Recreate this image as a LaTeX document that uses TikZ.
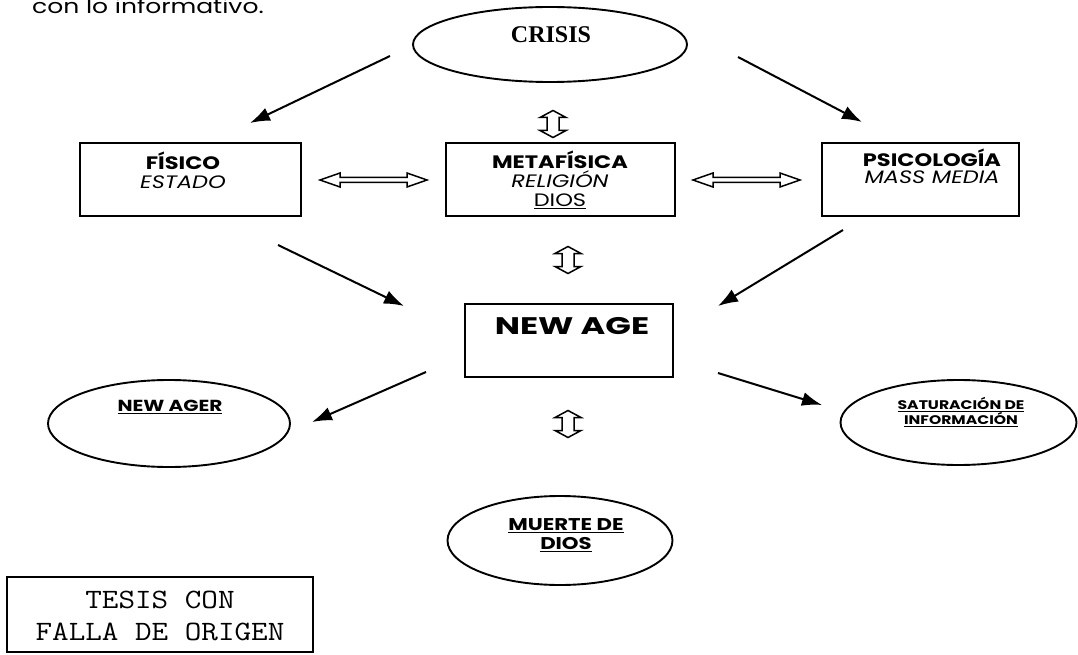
\documentclass[tikz,border=0pt]{standalone}
\usepackage{fontspec}
\usepackage{graphicx}
\setmainfont{Poppins}
\newfontfamily\crisisfont{Liberation Serif}
\newcommand\gx[1]{\scalebox{1.25}[1]{#1}}
\usetikzlibrary{shapes.geometric,arrows.meta,calc}
\begin{document}
\begin{tikzpicture}[x=1pt,y=-1pt,
  box/.style={draw,line width=1.5pt,inner sep=0pt},
  oval/.style={draw,ellipse,line width=1.9pt,inner sep=0pt},
  arr/.style={line width=2pt,-{Latex[length=20pt,width=14pt]}},
  hollow/.style={draw,line width=1.5pt,line join=miter},
  lbl/.style={inner sep=0pt,align=center,font=\fontsize{18}{19}\selectfont},
  ovtxt/.style={inner sep=0pt,align=center},
  stamptxt/.style={inner sep=0pt,align=center,font=\ttfamily\fontsize{28}{32}\selectfont},
  vdarrow/.pic={\draw[hollow] (0,-13.5) -- (13,-6.5) -- (6,-6.5) -- (6,6.5) -- (13,6.5) -- (0,13.5) -- (-13,6.5) -- (-6,6.5) -- (-6,-6.5) -- (-13,-6.5) -- cycle;},
  hdarrow/.pic={\draw[hollow] (-53.5,0) -- (-33.5,-7) -- (-33.5,-2.5) -- (33.5,-2.5) -- (33.5,-7) -- (53.5,0) -- (33.5,7) -- (33.5,2.5) -- (-33.5,2.5) -- (-33.5,7) -- cycle;}
]
\useasboundingbox (0,0) rectangle (1078,655);

% top text
\node[anchor=base west,inner sep=0pt,font=\fontsize{20}{22}\selectfont] (intro) at (32,14) {\gx{con lo informativo.}};

% CRISIS
\node[oval,minimum width=274pt,minimum height=75pt] (crisis) at (550,44.5) {};
\node[inner sep=0pt,font=\crisisfont\fontsize{24}{26}\selectfont\bfseries] (crisisT) at (551,35) {CRISIS};

% boxes
\node[box,minimum width=221pt,minimum height=73pt] (fisico) at (190.5,179.5) {};
\node[lbl] (fisicoT) at (183,170.5) {\gx{\textbf{FÍSICO}}\\\gx{\textit{ESTADO}}};

\node[box,minimum width=229pt,minimum height=73pt] (meta) at (560.5,179.5) {};
\node[lbl] (metaT) at (560,180) {\gx{\textbf{METAFÍSICA}}\\\gx{\textit{RELIGIÓN}}\\\gx{\underline{DIOS}}};

\node[box,minimum width=197pt,minimum height=73pt] (psico) at (920.5,179.5) {};
\node[lbl,font=\fontsize{18}{17}\selectfont] (psicoT) at (932,166) {\gx{\textbf{PSICOLOGÍA}}\\\gx{\textit{MASS MEDIA}}};

\node[box,minimum width=208pt,minimum height=73pt] (newage) at (569,340.5) {};
\node[inner sep=0pt,font=\fontsize{24}{26}\selectfont\bfseries] (newageT) at (572,326) {\scalebox{1.4}[1]{NEW AGE}};

% ellipses
\node[oval,minimum width=242pt,minimum height=87pt] (ager) at (169,423.5) {};
\node[ovtxt,font=\fontsize{16}{17}\selectfont\bfseries] (agerT) at (170,407) {\gx{\underline{NEW AGER}}};

\node[oval,minimum width=236pt,minimum height=85pt] (satur) at (958.5,422.5) {};
\node[ovtxt,font=\fontsize{12.5}{15}\selectfont\bfseries] (saturT) at (961,412) {\gx{\underline{SATURACIÓN DE}}\\\gx{\underline{INFORMACIÓN}}};

\node[oval,minimum width=225pt,minimum height=89pt] (muerte) at (560,540.5) {};
\node[ovtxt,font=\fontsize{17}{19}\selectfont\bfseries] (muerteT) at (566,535) {\gx{\underline{MUERTE DE}}\\\gx{\underline{DIOS}}};

% stamp
\node[draw,line width=1.6pt,minimum width=306pt,minimum height=75pt,inner sep=0pt] (stamp) at (160,614.5) {};
\node[stamptxt] (stampT) at (160,616) {\scalebox{1.15}[1]{TESIS CON}\\\scalebox{1.15}[1]{FALLA DE ORIGEN}};

% arrows
\coordinate (a1s) at (390,56);  \coordinate (a1e) at (250,123);
\coordinate (a2s) at (738,57);  \coordinate (a2e) at (862,122);
\coordinate (a3s) at (278,245); \coordinate (a3e) at (404,306);
\coordinate (a4s) at (843,230); \coordinate (a4e) at (718,306);
\coordinate (a5s) at (426,372); \coordinate (a5e) at (312,422);
\coordinate (a6s) at (718,373); \coordinate (a6e) at (822,405);
\draw[arr] (a1s) -- (a1e);
\draw[arr] (a2s) -- (a2e);
\draw[arr] (a3s) -- (a3e);
\draw[arr] (a4s) -- (a4e);
\draw[arr] (a5s) -- (a5e);
\draw[arr] (a6s) -- (a6e);

% hollow double arrows
\pic (vda1) at (553,124) {vdarrow};
\pic (vda2) at (568,260) {vdarrow};
\pic (vda3) at (568,424) {vdarrow};
\pic (hda1) at (373.5,180) {hdarrow};
\pic (hda2) at (746.5,180) {hdarrow};
\end{tikzpicture}
\end{document}
